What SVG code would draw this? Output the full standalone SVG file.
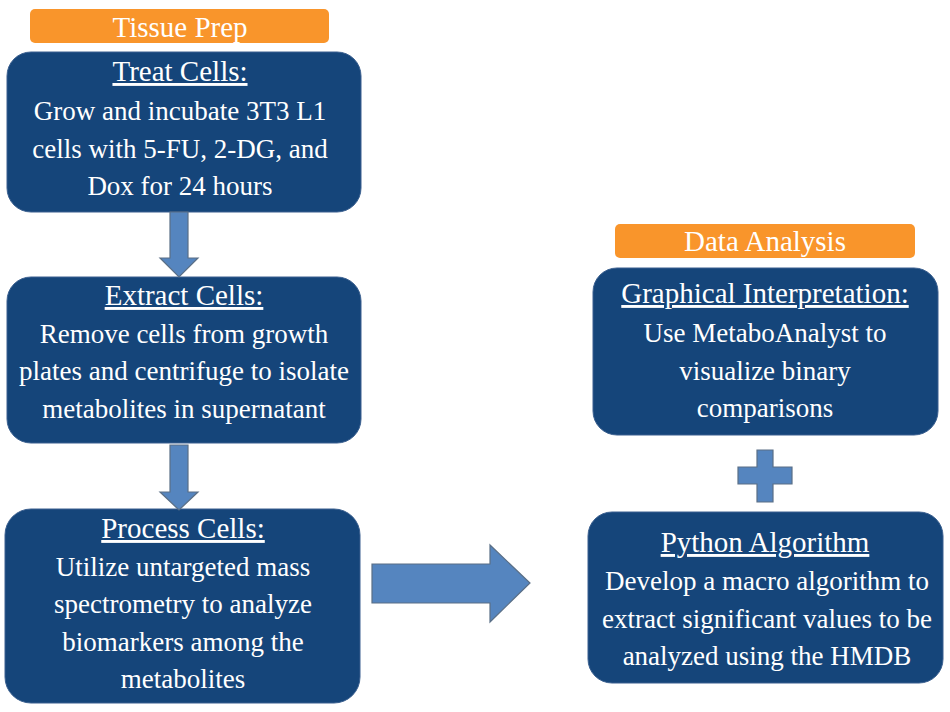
<svg xmlns="http://www.w3.org/2000/svg" width="950" height="712" viewBox="0 0 950 712">
<style>
.bg{fill:#ffffff}
.lab{fill:#F9952B}
.box{fill:#15457A;stroke:#3A5F8F;stroke-width:1}
.arr{fill:#5585BF;stroke:#5A6F86;stroke-width:1.2}
text{fill:#ffffff;text-anchor:middle}
.h{font-size:29px;text-decoration:underline}
.t{font-size:29px}
.b{font-size:27px}
</style>
<rect class="bg" x="0" y="0" width="950" height="712"/>
<g font-family="Liberation Serif, DejaVu Serif, serif">
<g id="tissue-prep">
<rect class="lab" x="30" y="9" width="299" height="34" rx="5"/>
<text class="t" x="180" y="37">Tissue Prep</text>
</g>
<g id="treat-cells">
<rect class="box" x="7" y="52" width="354" height="160" rx="24"/>
<text class="h" x="180" y="81">Treat Cells:</text>
<text class="b" x="180" y="120">Grow and incubate 3T3 L1</text>
<text class="b" x="180" y="157.5">cells with 5-FU, 2-DG, and</text>
<text class="b" x="180" y="195">Dox for 24 hours</text>
</g>
<g id="extract-cells">
<rect class="box" x="7" y="277" width="354" height="166" rx="24"/>
<text class="h" x="184" y="305">Extract Cells:</text>
<text class="b" x="184" y="342.5">Remove cells from growth</text>
<text class="b" x="184" y="380">plates and centrifuge to isolate</text>
<text class="b" x="184" y="417.5">metabolites in supernatant</text>
</g>
<g id="process-cells">
<rect class="box" x="5" y="509" width="355" height="194" rx="26"/>
<text class="h" x="183" y="538">Process Cells:</text>
<text class="b" x="183" y="576">Utilize untargeted mass</text>
<text class="b" x="183" y="613">spectrometry to analyze</text>
<text class="b" x="183" y="650.5">biomarkers among the</text>
<text class="b" x="183" y="688">metabolites</text>
</g>
<g id="data-analysis">
<rect class="lab" x="615" y="224" width="300" height="34" rx="5"/>
<text class="t" x="765" y="251">Data Analysis</text>
</g>
<g id="graphical-interpretation">
<rect class="box" x="593" y="268" width="345" height="167" rx="24"/>
<text class="h" x="765" y="303">Graphical Interpretation:</text>
<text class="b" x="765" y="342">Use MetaboAnalyst to</text>
<text class="b" x="765" y="380">visualize binary</text>
<text class="b" x="765" y="417">comparisons</text>
</g>
<g id="python-algorithm">
<rect class="box" x="588" y="512" width="355" height="171" rx="24"/>
<text class="h" x="765" y="552">Python Algorithm</text>
<text class="b" x="767" y="590">Develop a macro algorithm to</text>
<text class="b" x="767" y="628">extract significant values to be</text>
<text class="b" x="767" y="665">analyzed using the HMDB</text>
</g>
</g>
<g id="connectors">
<polygon class="arr" points="170,212 188,212 188,258 198,258 179,277 160,258 170,258"/>
<polygon class="arr" points="170,445 188,445 188,492 198,492 179,510 160,492 170,492"/>
<polygon class="arr" points="372,564 490,564 490,545 530,583 490,622 490,603 372,603"/>
<polygon class="arr" points="757,450 773,450 773,467 792,467 792,484 773,484 773,502 757,502 757,484 738,484 738,467 757,467"/>
</g>
</svg>
